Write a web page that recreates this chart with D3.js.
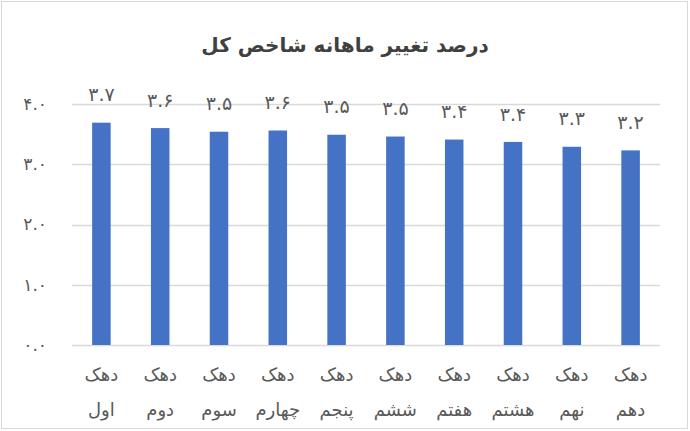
<!DOCTYPE html>
<html>
<head>
<meta charset="utf-8">
<script src="https://cdn.jsdelivr.net/npm/d3@7"></script>
<style>
  body { margin: 0; background: #fff; }
  text { font-family: "DejaVu Sans", "Noto Sans", sans-serif; }
</style>
</head>
<body>
<div id="chart"></div>
<script>
// deciles, first to tenth
const deciles = ["اول", "دوم", "سوم", "چهارم", "پنجم", "ششم", "هفتم", "هشتم", "نهم", "دهم"];
const values = [3.69, 3.60, 3.54, 3.56, 3.49, 3.46, 3.41, 3.37, 3.29, 3.23];
const yTicks = [0, 1, 2, 3, 4];
const title = "درصد تغییر ماهانه شاخص کل";

const width = 690;
const height = 431;
const margin = {top: 104, left: 72, right: 30, bottom: 86};

const faDigits = "۰۱۲۳۴۵۶۷۸۹";
function toFa(s) {
    return String(s).replace(/[0-9]/g, function(c) { return faDigits[+c]; });
}

const data = deciles.map(function(d, i) { return {name: d, value: values[i]}; });

const svg = d3.select("#chart")
    .append("svg")
    .attr("width", width)
    .attr("height", height);

svg.append("rect")
    .attr("x", 1.5)
    .attr("y", 1.5)
    .attr("width", width - 4)
    .attr("height", height - 4)
    .attr("fill", "#fff")
    .attr("stroke", "#d9d9d9");

const xScale = d3.scaleBand()
    .domain(deciles)
    .range([margin.left, width - margin.right])
    .paddingInner(0.685)
    .paddingOuter(0.3425);

const yScale = d3.scaleLinear()
    .domain([0, 4])
    .range([height - margin.bottom, margin.top]);

// gridlines
svg.append("g")
    .selectAll("line")
    .data(yTicks)
    .enter()
    .append("line")
        .attr("x1", margin.left)
        .attr("x2", width - margin.right)
        .attr("y1", function(d) { return Math.round(yScale(d)) + 0.5; })
        .attr("y2", function(d) { return Math.round(yScale(d)) + 0.5; })
        .attr("stroke", "#d9d9d9")
        .attr("stroke-width", 1.3);

// y axis labels
const yAxis = svg.append("g")
    .attr("transform", `translate(${margin.left - 25},0)`)
    .call(d3.axisLeft(yScale).tickValues(yTicks).tickSize(0).tickFormat(function(d) { return toFa(d3.format(".1f")(d)); }));
yAxis.select(".domain").remove();
yAxis.selectAll("text")
    .attr("fill", "#595959")
    .style("font-size", "17px")
    .attr("x", 0)
    .attr("text-anchor", "end")
    .style("direction", "ltr");

const bars = svg.selectAll(".bar")
    .data(data)
    .enter()
    .append("rect")
        .attr("class", "bar")
        .attr("x", function(d) { return xScale(d.name); })
        .attr("y", function(d) { return yScale(d.value); })
        .attr("width", xScale.bandwidth())
        .attr("height", function(d) { return yScale(0) - yScale(d.value); })
        .attr("fill", "#4472c4");

// value labels
svg.selectAll(".val")
    .data(data)
    .enter()
    .append("text")
        .attr("class", "val")
        .attr("x", function(d) { return xScale(d.name) + xScale.bandwidth() / 2; })
        .attr("y", function(d) { return yScale(d.value) - 28; })
        .attr("dy", "0.35em")
        .attr("text-anchor", "middle")
        .attr("fill", "#595959")
        .style("font-size", "19px")
        .style("direction", "ltr")
        .text(function(d) { return toFa(d3.format(".1f")(d.value)); });

// category labels, two lines
const xLab = svg.selectAll(".xlab")
    .data(data)
    .enter()
    .append("g")
        .attr("class", "xlab")
        .attr("transform", function(d) { return `translate(${xScale(d.name) + xScale.bandwidth() / 2},0)`; });
xLab.append("text")
    .attr("y", 375)
    .attr("dy", "0.35em")
    .attr("text-anchor", "middle")
    .attr("fill", "#595959")
    .style("font-size", "18px")
    .text("دهک");
xLab.append("text")
    .attr("y", 410)
    .attr("dy", "0.35em")
    .attr("text-anchor", "middle")
    .attr("fill", "#595959")
    .style("font-size", "18px")
    .text(function(d) { return d.name; });

svg.append("text")
    .attr("x", 345)
    .attr("y", 45)
    .attr("dy", "0.35em")
    .attr("text-anchor", "middle")
    .attr("fill", "#404040")
    .style("font-size", "20px")
    .style("font-weight", "bold")
    .text(title);
</script>
</body>
</html>
